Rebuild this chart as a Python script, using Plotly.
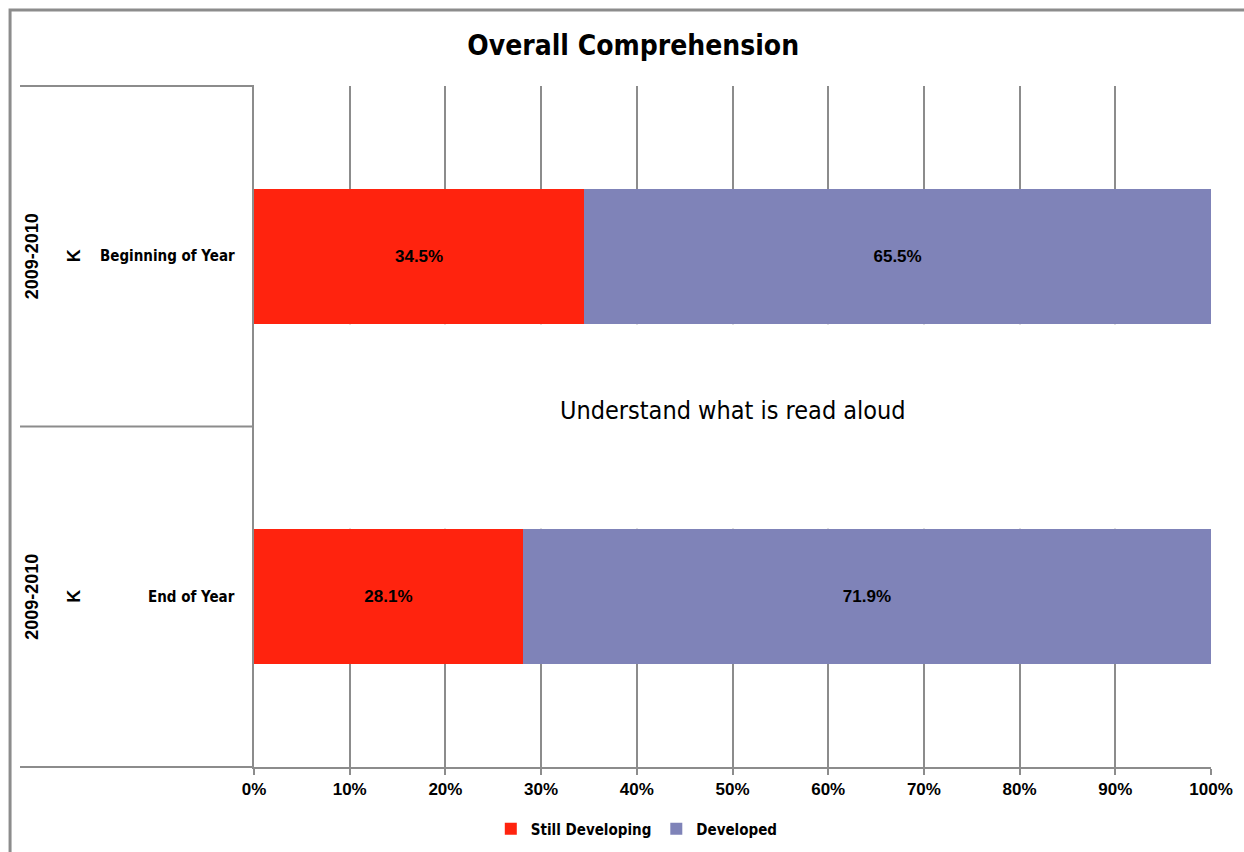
import plotly.graph_objects as go

# ---- data ----
periods = ["Beginning of Year", "End of Year"]
years = ["2009-2010", "2009-2010"]
grades = ["K", "K"]
still_developing = [0.345, 0.281]
developed = [0.655, 0.719]
x_ticks = [0, 0.1, 0.2, 0.3, 0.4, 0.5, 0.6, 0.7, 0.8, 0.9, 1.0]
title_text = "Overall Comprehension"
center_text = "Understand what is read aloud"

RED = "#FF230E"
PURPLE = "#7F83B8"
GRAY = "#8C8C8C"
NARROW = "DejaVu Sans Condensed, sans-serif"
SANS = "Liberation Sans, Arial, sans-serif"

fig = go.Figure()
fig.add_trace(go.Bar(
    y=periods, x=still_developing, orientation="h", name="Still Developing",
    marker=dict(color=RED, line=dict(width=0)),
    texttemplate="%{x:.1%}", textposition="inside", insidetextanchor="middle",
    textangle=0, textfont=dict(family=SANS, size=17, color="black", weight="bold"),
))
fig.add_trace(go.Bar(
    y=periods, x=developed, orientation="h", name="Developed",
    marker=dict(color=PURPLE, line=dict(width=0)),
    texttemplate="%{x:.1%}", textposition="inside", insidetextanchor="middle",
    textangle=0, textfont=dict(family=SANS, size=17, color="black", weight="bold"),
))

annotations = []
for p, yr, g in zip(periods, years, grades):
    annotations.append(dict(xref="paper", yref="y", x=-0.232, y=p, text=yr, textangle=-90,
                            showarrow=False, xanchor="center", yanchor="middle",
                            font=dict(family=SANS, size=18, color="black", weight="bold")))
    annotations.append(dict(xref="paper", yref="y", x=-0.188, y=p, text=g, textangle=-90,
                            showarrow=False, xanchor="center", yanchor="middle",
                            font=dict(family=SANS, size=18, color="black", weight="bold")))
    annotations.append(dict(xref="paper", yref="y", x=-0.0178, y=p, text=p,
                            showarrow=False, xanchor="right", yanchor="middle",
                            font=dict(family=NARROW, size=15, color="black", weight="bold")))
annotations.append(dict(xref="paper", yref="paper", x=0.5, y=0.524, text=center_text,
                        showarrow=False, xanchor="center", yanchor="middle",
                        font=dict(family=NARROW, size=25, color="black")))

L = -0.2445
shapes = [
    # white panel hiding gridlines between the bars
    dict(type="rect", xref="paper", yref="y", x0=0.003, x1=1.01, y0=0.2, y1=0.8,
         fillcolor="white", line=dict(width=0), layer="above"),
    # category separators
    dict(type="line", xref="paper", yref="paper", x0=L, x1=0, y0=1, y1=1,
         line=dict(color=GRAY, width=2)),
    dict(type="line", xref="paper", yref="paper", x0=L, x1=0, y0=0.5, y1=0.5,
         line=dict(color=GRAY, width=2)),
    dict(type="line", xref="paper", yref="paper", x0=L, x1=0, y0=0, y1=0,
         line=dict(color=GRAY, width=2)),
    # outer chart border
    dict(type="rect", xref="paper", yref="paper", x0=-0.2549, x1=1.04, y0=-0.14, y1=1.1116,
         line=dict(color=GRAY, width=3), fillcolor="rgba(0,0,0,0)"),
]

fig.update_layout(
    width=1244, height=852, autosize=False,
    margin=dict(l=254, r=33, t=86, b=85, autoexpand=False),
    paper_bgcolor="white", plot_bgcolor="white",
    barmode="stack", bargap=0.604,
    title=dict(text=title_text, x=0.509, xanchor="center", y=0.947, yanchor="middle",
               font=dict(family="DejaVu Sans Condensed, sans-serif", size=28,
                         color="black", weight="bold")),
    xaxis=dict(range=[0, 1], tickvals=x_ticks, tickformat=".0%",
               showgrid=True, gridcolor=GRAY, gridwidth=2,
               showline=True, linecolor=GRAY, linewidth=2,
               ticks="outside", ticklen=6, tickwidth=2, tickcolor=GRAY,
               tickfont=dict(family=SANS, size=17, color="black", weight="bold"),
               zeroline=False, fixedrange=True, automargin=False),
    yaxis=dict(categoryorder="array", categoryarray=periods, autorange="reversed",
               showticklabels=False, showgrid=False, zeroline=False, automargin=False,
               showline=True, linecolor=GRAY, linewidth=2, ticks="", fixedrange=True),
    legend=dict(orientation="h", x=0.4, xanchor="center", y=-0.091, yanchor="middle",
                font=dict(family=NARROW, size=15, color="black", weight="bold"),
                itemwidth=30, traceorder="normal", bgcolor="rgba(0,0,0,0)"),
    annotations=annotations,
    shapes=shapes,
    showlegend=True,
)

fig.write_html("out.html", config={"displayModeBar": False},
               post_script="document.body.style.margin='0';document.body.style.overflow='hidden';")
